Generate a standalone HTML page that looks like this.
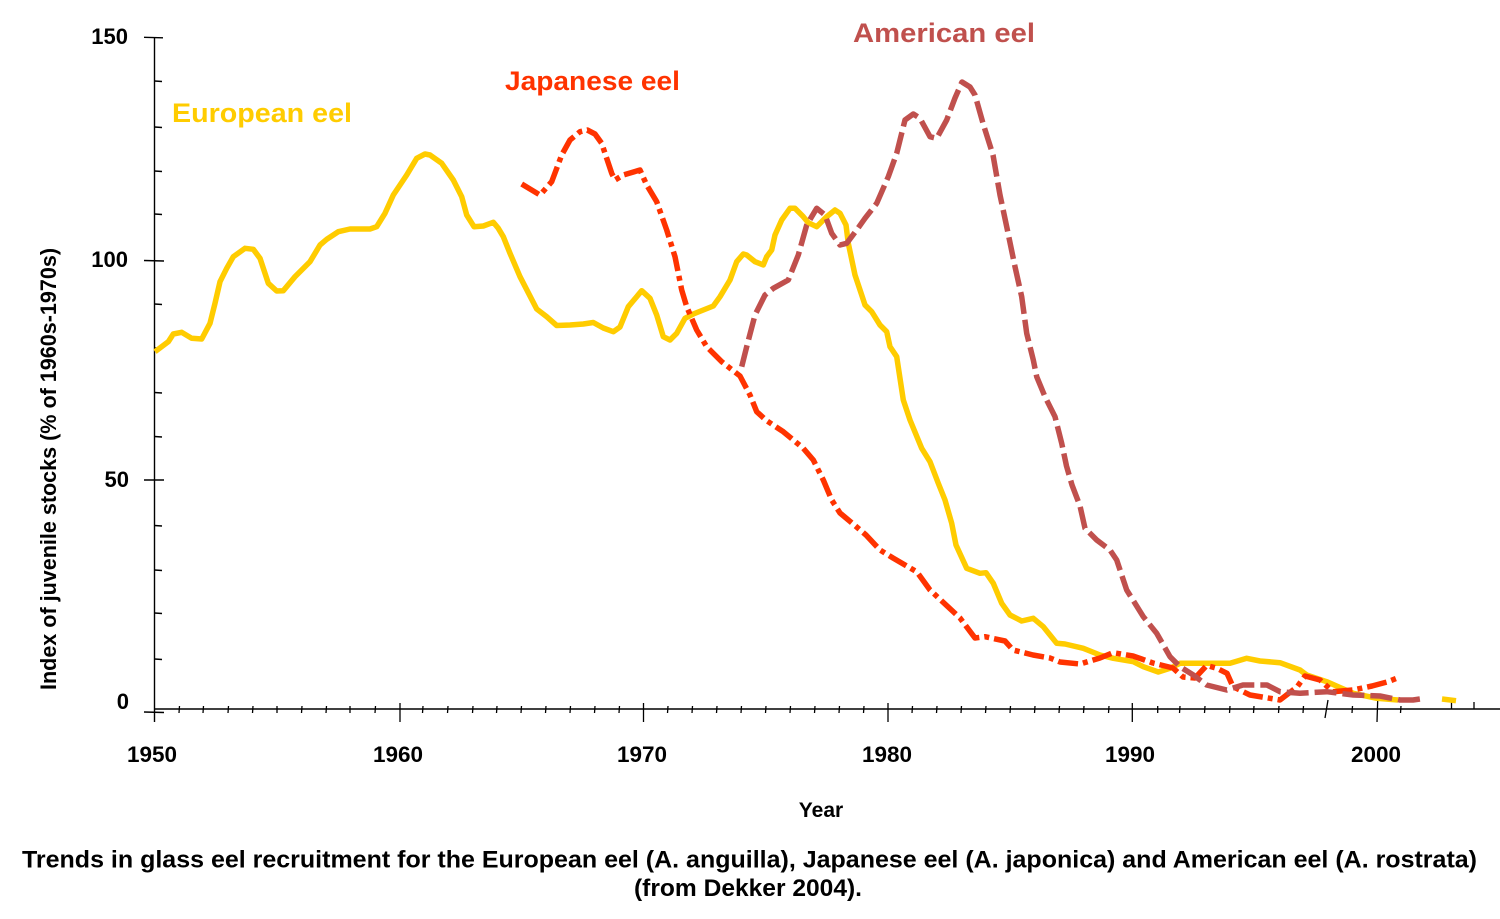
<!DOCTYPE html>
<html>
<head>
<meta charset="utf-8">
<style>
  html, body { margin: 0; padding: 0; background: #ffffff; }
  svg { display: block; }
  text { font-family: "Liberation Sans", Arial, sans-serif; font-weight: bold; }
</style>
</head>
<body>
<svg width="1500" height="919" viewBox="0 0 1500 919" xmlns="http://www.w3.org/2000/svg">
  <rect width="1500" height="919" fill="#ffffff"/>

  <g stroke="#000" stroke-width="1.4" fill="none">
    <line x1="154.5" y1="37" x2="154.5" y2="722"/>
    <line x1="154.5" y1="709" x2="1500" y2="709"/>
    <line x1="144" y1="37.3" x2="163" y2="37.8"/>
    <line x1="144" y1="260.5" x2="164" y2="261"/>
    <line x1="144" y1="480" x2="164" y2="480"/>
    <line x1="144" y1="712" x2="164" y2="712.5"/>
    <line x1="154.5" y1="81" x2="162" y2="81.5"/>
    <line x1="154.5" y1="127" x2="162" y2="127.5"/>
    <line x1="154.5" y1="171" x2="162" y2="171.5"/>
    <line x1="154.5" y1="214" x2="162" y2="214.5"/>
    <line x1="154.5" y1="304" x2="162" y2="304.5"/>
    <line x1="154.5" y1="348" x2="162" y2="348.5"/>
    <line x1="154.5" y1="392.5" x2="162" y2="393"/>
    <line x1="154.5" y1="436.5" x2="162" y2="437"/>
    <line x1="154.5" y1="525.5" x2="162" y2="526"/>
    <line x1="154.5" y1="570" x2="162" y2="570.5"/>
    <line x1="154.5" y1="613" x2="162" y2="613.5"/>
    <line x1="154.5" y1="659" x2="162" y2="659.5"/>
  </g>

  <g stroke="#000" stroke-width="1.3">
    <line x1="400" y1="703" x2="400" y2="722"/>
    <line x1="643.5" y1="703" x2="643.5" y2="722"/>
    <line x1="888" y1="703" x2="888" y2="722"/>
    <line x1="1132.3" y1="703" x2="1132.3" y2="722"/>
    <line x1="1377.7" y1="700" x2="1377" y2="722"/>
    <line x1="1328" y1="700" x2="1325" y2="718"/>
    <line x1="179.5" y1="706" x2="179" y2="713"/>
    <line x1="203.5" y1="706" x2="203" y2="713"/>
    <line x1="228.5" y1="706" x2="228" y2="713"/>
    <line x1="253" y1="706" x2="252.5" y2="713"/>
    <line x1="277" y1="706" x2="277" y2="713"/>
    <line x1="302" y1="706" x2="301.5" y2="713"/>
    <line x1="326.5" y1="706" x2="326" y2="713"/>
    <line x1="350" y1="706" x2="350" y2="713"/>
    <line x1="375.5" y1="706" x2="375" y2="713"/>
    <line x1="423" y1="706" x2="422.5" y2="713"/>
    <line x1="448" y1="706" x2="447.5" y2="713"/>
    <line x1="473" y1="706" x2="472.5" y2="713"/>
    <line x1="497" y1="706" x2="496.5" y2="713"/>
    <line x1="521.5" y1="706" x2="521" y2="713"/>
    <line x1="546" y1="706" x2="545.5" y2="713"/>
    <line x1="570.5" y1="706" x2="570" y2="713"/>
    <line x1="595" y1="706" x2="594.5" y2="713"/>
    <line x1="619.5" y1="706" x2="619" y2="713"/>
    <line x1="668" y1="706" x2="667.5" y2="713"/>
    <line x1="692.5" y1="706" x2="692" y2="713"/>
    <line x1="717" y1="706" x2="716.5" y2="713"/>
    <line x1="741.5" y1="706" x2="741" y2="713"/>
    <line x1="766" y1="706" x2="765.5" y2="713"/>
    <line x1="790.5" y1="706" x2="790" y2="713"/>
    <line x1="815" y1="706" x2="814.5" y2="713"/>
    <line x1="839.5" y1="706" x2="839" y2="713"/>
    <line x1="864" y1="706" x2="863.5" y2="713"/>
    <line x1="912.5" y1="706" x2="912" y2="713"/>
    <line x1="937" y1="706" x2="936.5" y2="713"/>
    <line x1="961.5" y1="706" x2="961" y2="713"/>
    <line x1="986" y1="706" x2="985.5" y2="713"/>
    <line x1="1010.5" y1="706" x2="1010" y2="713"/>
    <line x1="1035" y1="706" x2="1034.5" y2="713"/>
    <line x1="1059.5" y1="706" x2="1059" y2="713"/>
    <line x1="1084" y1="706" x2="1083.5" y2="713"/>
    <line x1="1109" y1="706" x2="1108.5" y2="713"/>
    <line x1="1157.7" y1="706" x2="1157.7" y2="713"/>
    <line x1="1180" y1="706" x2="1179.5" y2="713"/>
    <line x1="1205" y1="706" x2="1204.5" y2="713"/>
    <line x1="1230" y1="706" x2="1229.5" y2="713"/>
    <line x1="1254" y1="706" x2="1253.5" y2="713"/>
    <line x1="1279" y1="706" x2="1278.5" y2="713"/>
    <line x1="1303.5" y1="706" x2="1303" y2="713"/>
    <line x1="1352.5" y1="706" x2="1352" y2="713"/>
    <line x1="1401" y1="706" x2="1400.5" y2="713"/>
    <line x1="1451.5" y1="702" x2="1451.5" y2="709"/>
    <line x1="1474" y1="702" x2="1474" y2="709"/>
  </g>

  <g fill="none" stroke-linejoin="round" stroke-linecap="butt" stroke-width="5.5">
    <polyline stroke="#FFCC00" points="155,351.7 168.3,341.7 173.3,334 181.7,332.3 191.7,338.3 201.7,339 210,323.3 215,303.3 220,281.7 226.7,268.3 233.3,256.7 245,248.3 253.3,249.3 260,258.3 268.3,283.3 276.7,291 283.3,290.7 295,276.7 310,261.7 320,245 326.7,239.3 338.3,231.7 350,229 370,229 376.7,226.7 385,213.3 393.3,195 406.7,175 416.7,158.3 425,154 430,155 441.7,163.3 453.3,180 461.7,196.7 466.7,215 474,226.7 483.3,226 493.3,222.3 498.3,228.3 503.3,236.7 510,253.3 520,276.7 536.7,309 546.7,316.7 556.7,325.5 570,325 583.3,324 593.3,322.5 603.3,328 613.3,331.7 620,327 628.3,306.7 641.7,290.7 650,298.3 656.7,315 663.3,336.7 670,340 676.7,333.3 685,318.3 693.3,314 713.3,306 720,296.7 730,280 736.7,261.7 743.3,254 746.7,255 755,261.7 763.3,265 766.7,256.7 771.7,250 775,235 781.7,220 790,208.3 795,208.3 803.3,216.7 808.3,222.7 816.7,226.7 826.7,216.7 835,210 840,213.3 846,225 848.3,243.3 855,275 861.7,295 865,305 871.7,311.7 880,325 886.7,331.7 890,346.7 896.7,356.7 903.3,400 910,420 921.7,448.3 930,461.7 938.3,483.3 945,500 951.7,523.3 956,545 966.7,568.3 980,573.3 986,572.7 993.3,583.3 1001.7,603.3 1010,615 1021.7,621 1033.3,618.3 1043.3,626.7 1056.7,643.3 1065,644 1083.3,648.3 1100,655 1113.3,658.3 1133.3,661.7 1143.3,666.7 1158.3,672 1170,668.3 1180,663.3 1203.3,663.3 1230,663.3 1246.7,658.3 1260,661 1280,662.7 1300,670 1306.7,675 1326.7,681.7 1340,687.5 1353.3,693.3 1376.7,698.3 1398,700"/>
    <polyline stroke="#FFCC00" points="1442,699 1456,700.7"/>

    <polyline stroke="#FF3300" stroke-dasharray="20 5 5 5" points="521.7,184 540,195 551.7,181.7 561.7,155 570,140 580,131.7 587.3,130 595,134 601.7,143.3 611.7,173.3 615,180 623.3,175 640,170 646.7,185 656.7,201.7 666.7,230 675,256.7 681.7,290 686.7,306.7 696.7,330 706.7,346.7 721.7,361.7 740,376 750,395 756.7,411.7 766.7,420.7 783.3,431.7 803.3,448.3 813.3,460 823.3,480 831.7,500 840,513 852,523 866,535 880,550 893,558 917,572 930,590 960,618 975,638 985,636.7 1005,641 1013,650 1033,655 1050,658 1060,662 1080,664 1100,658 1113,652.7 1133,656 1153,663 1173,668 1183,677 1195,678 1206.7,665.5 1217,668.3 1227,673.3 1233,686.7 1250,695 1280,700 1297,687 1305,676 1320,680 1333,691.7 1353,690 1372,686 1387,682 1400,677"/>

    <polyline stroke="#C0504D" stroke-dasharray="22 6" points="741.7,366.7 746.7,346.7 755,315 765,295 773.3,288.3 788.3,280 798.3,255 806.7,225 816.7,208.3 825,215 831.7,233.3 840,245 846.7,243.3 856.7,230 865,218.3 876.7,203.3 888.3,176.7 896.7,153.3 905,120 913.3,114 920,118.3 930,136.7 936.7,138.3 946.7,120 955,98 962,82 970,87 975,95 983.5,125 993,155 1000,195 1006.7,226.7 1015,266.7 1021.7,296.7 1026.7,333.3 1033.3,360 1036.7,376.7 1045,396.7 1055,416.7 1061.7,443.3 1066.5,466 1072,485 1080,506 1085,528.3 1096.7,540 1110,550 1116.7,560 1126.7,590 1143.3,616.7 1156.7,633.3 1170,656.7 1180,666.7 1193.3,675 1206.7,685 1226.7,690 1243,685 1267,685 1280,691.7 1300,693.3 1326.7,691.7 1353.3,695 1380,696 1400,700 1413,700 1425,698.3"/>
  </g>

  <text x="172" y="122" font-size="27" fill="#FFCC00" textLength="180" lengthAdjust="spacingAndGlyphs">European eel</text>
  <text x="505" y="90" font-size="27" fill="#FF3300" textLength="175" lengthAdjust="spacingAndGlyphs">Japanese eel</text>
  <text x="853" y="42" font-size="27" fill="#C0504D" textLength="182" lengthAdjust="spacingAndGlyphs">American eel</text>

  <g font-size="22" fill="#000" text-anchor="end">
    <text x="128" y="44">150</text>
    <text x="128" y="267">100</text>
    <text x="129" y="487">50</text>
    <text x="129" y="709">0</text>
  </g>

  <g font-size="22" fill="#000" text-anchor="middle">
    <text x="152" y="762" textLength="50" lengthAdjust="spacingAndGlyphs">1950</text>
    <text x="398" y="762" textLength="50" lengthAdjust="spacingAndGlyphs">1960</text>
    <text x="642" y="762" textLength="50" lengthAdjust="spacingAndGlyphs">1970</text>
    <text x="887" y="762" textLength="50" lengthAdjust="spacingAndGlyphs">1980</text>
    <text x="1130" y="762" textLength="50" lengthAdjust="spacingAndGlyphs">1990</text>
    <text x="1376" y="762" textLength="50" lengthAdjust="spacingAndGlyphs">2000</text>
  </g>

  <text x="821" y="817" font-size="21" fill="#000" text-anchor="middle">Year</text>
  <text transform="translate(56,469) rotate(-90)" x="0" y="0" font-size="22" fill="#000" text-anchor="middle" textLength="442" lengthAdjust="spacingAndGlyphs">Index of juvenile stocks (% of 1960s-1970s)</text>

  <text x="749.5" y="867.5" font-size="24" fill="#000" text-anchor="middle" textLength="1455" lengthAdjust="spacingAndGlyphs">Trends in glass eel recruitment for the European eel (A. anguilla), Japanese eel (A. japonica) and American eel (A. rostrata)</text>
  <text x="748" y="896" font-size="24" fill="#000" text-anchor="middle" textLength="228" lengthAdjust="spacingAndGlyphs">(from Dekker 2004).</text>
</svg>
</body>
</html>
